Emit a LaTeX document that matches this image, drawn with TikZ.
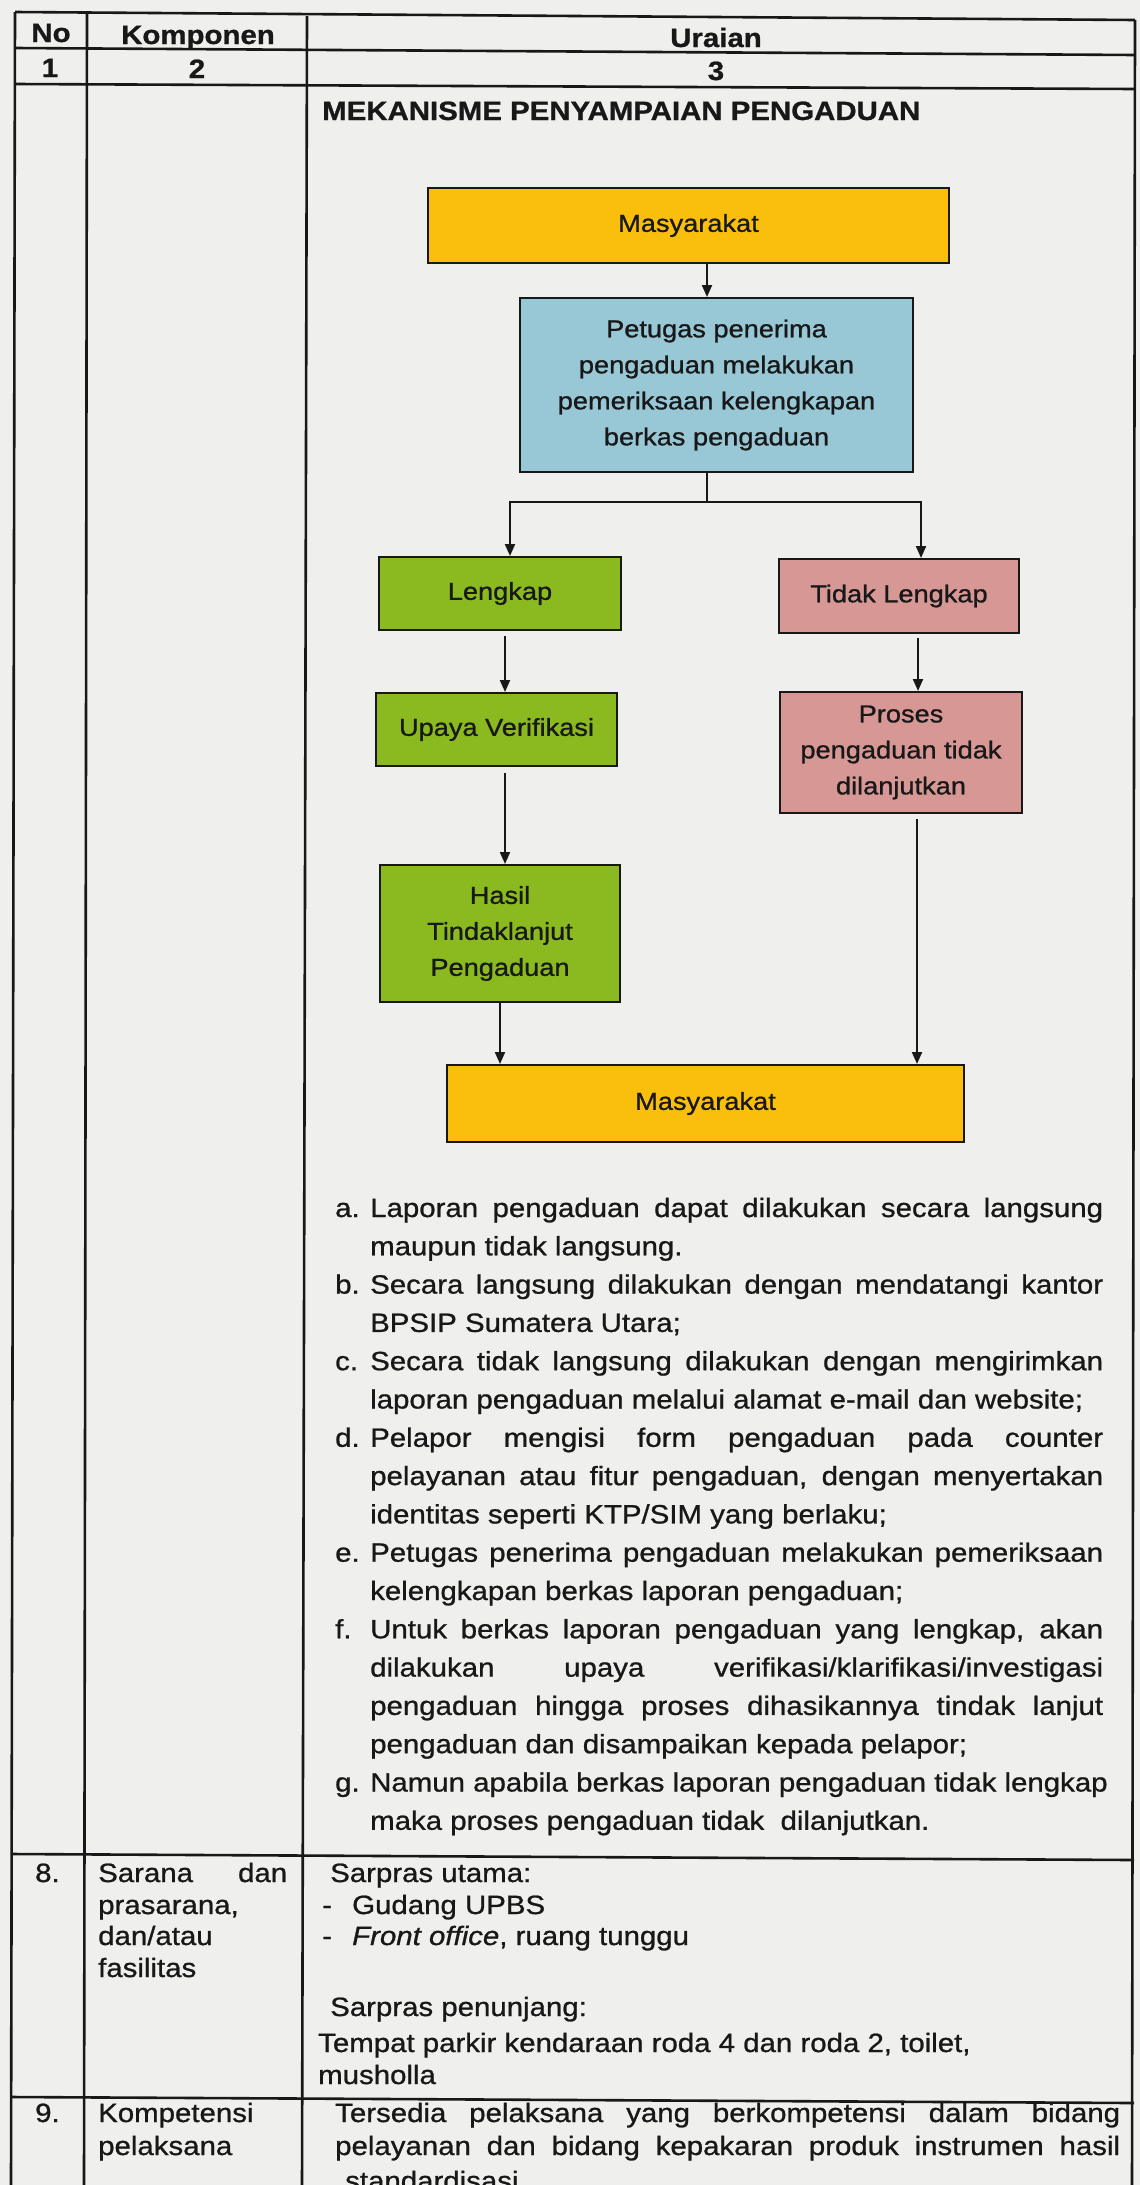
\documentclass[tikz,border=0pt]{standalone}
\usepackage{fontspec}
\setmainfont{Liberation Sans}[FakeStretch=1.11,FakeBold=0.9]
\usetikzlibrary{arrows.meta}
\definecolor{ink}{RGB}{24,24,24}
\definecolor{paper}{RGB}{239,239,237}
\definecolor{masy}{RGB}{250,190,12}
\definecolor{petugas}{RGB}{152,199,213}
\definecolor{hijau}{RGB}{138,186,32}
\definecolor{merah}{RGB}{214,151,149}
\newcommand\jline[5]{\node[ln] (#1) at (#2,#3) {\makebox[#4pt][s]{#5}};}
\begin{document}
\begin{tikzpicture}[x=1pt,y=-1pt,
  every node/.style={inner sep=0pt,text=ink},
  body/.style={font=\fontsize{26.5}{32}\selectfont},
  bodyb/.style={font=\fontsize{26.5}{32}\selectfont\bfseries},
  ln/.style={body,anchor=base west},
  fbox/.style={draw=ink,line width=2pt,inner sep=0pt,align=center,
    font=\fontsize{24.5}{36}\selectfont},
  arr/.style={draw=ink,line width=2pt,-{Triangle[length=12pt,width=10pt]}},
  conn/.style={draw=ink,line width=2pt},
  rule/.style={draw=ink,line width=2.6pt}]
\fill[paper] (0,0) rectangle (1140,2185);
\useasboundingbox (0,0) rectangle (1140,2185);

% table rules
\draw[rule] (15,12) -- (11,2190);
\draw[rule] (87,13) -- (84,2190);
\draw[rule] (307,16) -- (302,2190);
\draw[rule] (1135,20) -- (1132,2190);
\draw[rule] (15,12) -- (1135,20);
\draw[rule] (15,48) -- (1135,55);
\draw[rule] (15,84) -- (1135,89);
\draw[rule] (12,1854) -- (1134,1860);
\draw[rule] (12,2097) -- (1134,2103);

% header
\node[bodyb,anchor=base] (hno) at (51,42) {No};
\node[bodyb,anchor=base] (hkomp) at (198,44) {Komponen};
\node[bodyb,anchor=base] (hur) at (716,47) {Uraian};
\node[bodyb,anchor=base] (h1) at (50,77) {1};
\node[bodyb,anchor=base] (h2) at (197,78) {2};
\node[bodyb,anchor=base] (h3) at (716,80) {3};
\node[bodyb,anchor=base west] (title) at (322,120) {MEKANISME PENYAMPAIAN PENGADUAN};

% flowchart
\node[fbox,fill=masy,minimum width=521pt,minimum height=75pt] (m1) at (688.5,225.5) {Masyarakat};
\node[fbox,fill=petugas,minimum width=393pt,minimum height=174pt] (pt) at (716.5,385) {Petugas penerima\\pengaduan melakukan\\pemeriksaan kelengkapan\\berkas pengaduan};
\node[fbox,fill=hijau,minimum width=242pt,minimum height=73pt] (lk) at (500,593.5) {Lengkap};
\node[fbox,fill=merah,minimum width=240pt,minimum height=74pt] (tl) at (899,596) {Tidak Lengkap};
\node[fbox,fill=hijau,minimum width=241pt,minimum height=73pt] (uv) at (496.5,729.5) {Upaya Verifikasi};
\node[fbox,fill=merah,minimum width=242pt,minimum height=121pt] (pr) at (901,752.5) {Proses\\pengaduan tidak\\dilanjutkan};
\node[fbox,fill=hijau,minimum width=240pt,minimum height=137pt] (hs) at (500,933.5) {Hasil\\Tindaklanjut\\Pengaduan};
\node[fbox,fill=masy,minimum width=517pt,minimum height=77pt] (m2) at (705.5,1103.5) {Masyarakat};

\coordinate (a1) at ([xshift=18.5pt]m1.south);
\draw[arr] (a1) -- (a1 |- pt.north);
\coordinate (s0) at ([xshift=-9.5pt]pt.south);
\coordinate (sj) at (707,502);
\draw[conn] (s0) -- (sj);
\draw[arr] (sj) -| ([xshift=10pt]lk.north);
\draw[arr] (sj) -| ([xshift=22pt]tl.north);
\coordinate (cl) at ([xshift=5pt]lk.south);
\draw[arr,shorten <=5pt] (cl) -- (cl |- uv.north);
\coordinate (cu) at ([xshift=8.5pt]uv.south);
\draw[arr,shorten <=6pt] (cu) -- (cu |- hs.north);
\coordinate (ct) at ([xshift=19pt]tl.south);
\draw[arr,shorten <=4pt] (ct) -- (ct |- pr.north);
\coordinate (ch) at (hs.south);
\draw[arr] (ch) -- (ch |- m2.north);
\coordinate (cp) at ([xshift=16pt]pr.south);
\draw[arr,shorten <=5pt] (cp) -- (cp |- m2.north);

% list
\node[ln] (la) at (335,1217) {a.};
\jline{l1}{370}{1217}{733}{Laporan pengaduan dapat dilakukan secara langsung}
\node[ln] (l2) at (370,1255.3) {maupun tidak langsung.};
\node[ln] (lb) at (335,1293.6) {b.};
\jline{l3}{370}{1293.6}{733}{Secara langsung dilakukan dengan mendatangi kantor}
\node[ln] (l4) at (370,1331.9) {BPSIP Sumatera Utara;};
\node[ln] (lc) at (335,1370.2) {c.};
\jline{l5}{370}{1370.2}{733}{Secara tidak langsung dilakukan dengan mengirimkan}
\node[ln] (l6) at (370,1408.5) {laporan pengaduan melalui alamat e-mail dan website;};
\node[ln] (ld) at (335,1446.8) {d.};
\jline{l7}{370}{1446.8}{733}{Pelapor mengisi form pengaduan pada counter}
\jline{l8}{370}{1485.1}{733}{pelayanan atau fitur pengaduan, dengan menyertakan}
\node[ln] (l9) at (370,1523.4) {identitas seperti KTP/SIM yang berlaku;};
\node[ln] (le) at (335,1561.7) {e.};
\jline{l10}{370}{1561.7}{733}{Petugas penerima pengaduan melakukan pemeriksaan}
\node[ln] (l11) at (370,1600) {kelengkapan berkas laporan pengaduan;};
\node[ln] (lf) at (335,1638.3) {f.};
\jline{l12}{370}{1638.3}{733}{Untuk berkas laporan pengaduan yang lengkap, akan}
\jline{l13}{370}{1676.6}{733}{dilakukan upaya verifikasi/klarifikasi/investigasi}
\jline{l14}{370}{1714.9}{733}{pengaduan hingga proses dihasikannya tindak lanjut}
\node[ln] (l15) at (370,1753.2) {pengaduan dan disampaikan kepada pelapor;};
\node[ln] (lg) at (335,1791.5) {g.};
\node[ln] (l16) at (370,1791.5) {Namun apabila berkas laporan pengaduan tidak lengkap};
\node[ln] (l17) at (370,1829.8) {maka proses pengaduan tidak\ \ dilanjutkan.};

% row 8
\node[ln] (n8) at (35,1882) {8.};
\jline{k8a}{98}{1882}{189}{Sarana dan}
\node[ln] (k8b) at (98,1914) {prasarana,};
\node[ln] (k8c) at (98,1945) {dan/atau};
\node[ln] (k8d) at (98,1977) {fasilitas};
\node[ln] (u8a) at (330,1882) {Sarpras utama:};
\node[ln] (u8b) at (322,1914) {-};
\node[ln] (u8c) at (352,1914) {Gudang UPBS};
\node[ln] (u8d) at (322,1945) {-};
\node[ln] (u8e) at (352,1945) {\textit{Front office}, ruang tunggu};
\node[ln] (u8f) at (330,2016) {Sarpras penunjang:};
\node[ln] (u8g) at (318,2052) {Tempat parkir kendaraan roda 4 dan roda 2, toilet,};
\node[ln] (u8h) at (318,2084) {musholla};

% row 9
\node[ln] (n9) at (35,2122) {9.};
\node[ln] (k9a) at (98,2122) {Kompetensi};
\node[ln] (k9b) at (98,2155) {pelaksana};
\jline{u9a}{335}{2122}{785}{Tersedia pelaksana yang berkompetensi dalam bidang}
\jline{u9b}{335}{2155}{785}{pelayanan dan bidang kepakaran produk instrumen hasil}
\node[ln] (u9c) at (345,2190) {standardisasi};
\end{tikzpicture}
\end{document}
